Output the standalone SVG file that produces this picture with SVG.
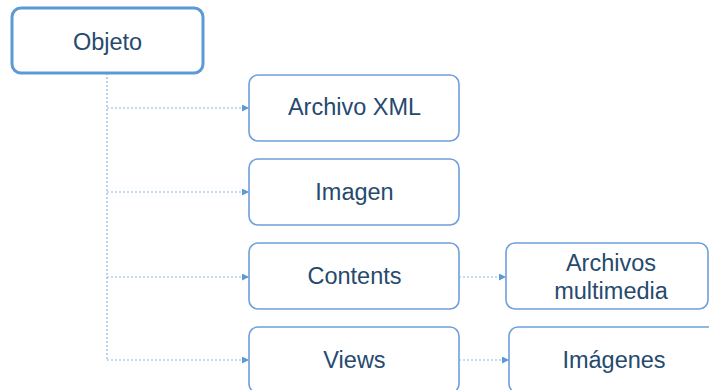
<svg xmlns="http://www.w3.org/2000/svg" width="709" height="390" viewBox="0 0 709 390">
<defs>
<marker id="arr" viewBox="0 0 10 10" refX="10" refY="5" markerWidth="7" markerHeight="7" markerUnits="userSpaceOnUse" orient="auto">
<path d="M0,0 L10,5 L0,10 z" fill="#5b9bd5"/>
</marker>
<style>
.box{fill:#fff;stroke:#6f9fdc;stroke-width:1.6}
.root{fill:#fff;stroke:#5b9bd5;stroke-width:3}
.lbl{font-family:"Liberation Sans",Arial,sans-serif;font-size:23.5px;fill:#264a6e;text-anchor:middle;dominant-baseline:central}
.con{fill:none;stroke:#8ab8e6;stroke-width:1.2;stroke-dasharray:2 2}
</style>
</defs>
<rect width="709" height="390" fill="#fff"/>
<g id="connectors">
<path class="con" d="M107,73 V360"/>
<path class="con" d="M107,108 H249" marker-end="url(#arr)"/>
<path class="con" d="M107,192 H249" marker-end="url(#arr)"/>
<path class="con" d="M107,277 H249" marker-end="url(#arr)"/>
<path class="con" d="M107,360 H249" marker-end="url(#arr)"/>
<path class="con" d="M459,277 H506" marker-end="url(#arr)"/>
<path class="con" d="M459,360 H509" marker-end="url(#arr)"/>
</g>
<g id="objeto">
<rect class="root" x="12" y="8" width="191" height="65" rx="9"/>
<text class="lbl" x="107.5" y="42">Objeto</text>
</g>
<g id="archivo-xml">
<rect class="box" x="249" y="75" width="210" height="66" rx="9"/>
<text class="lbl" x="354.5" y="107">Archivo XML</text>
</g>
<g id="imagen">
<rect class="box" x="249" y="159" width="210" height="66" rx="9"/>
<text class="lbl" x="354.5" y="192">Imagen</text>
</g>
<g id="contents">
<rect class="box" x="249" y="243" width="210" height="66" rx="9"/>
<text class="lbl" x="354.5" y="276">Contents</text>
</g>
<g id="views">
<rect class="box" x="249" y="327" width="210" height="66" rx="9"/>
<text class="lbl" x="354.5" y="360">Views</text>
</g>
<g id="archivos-multimedia">
<rect class="box" x="506" y="243" width="202" height="66" rx="9"/>
<text class="lbl" x="611" y="263">Archivos</text>
<text class="lbl" x="611" y="291">multimedia</text>
</g>
<g id="imagenes">
<rect class="box" x="509" y="327" width="210" height="66" rx="9"/>
<text class="lbl" x="614" y="360">Imágenes</text>
</g>
</svg>
